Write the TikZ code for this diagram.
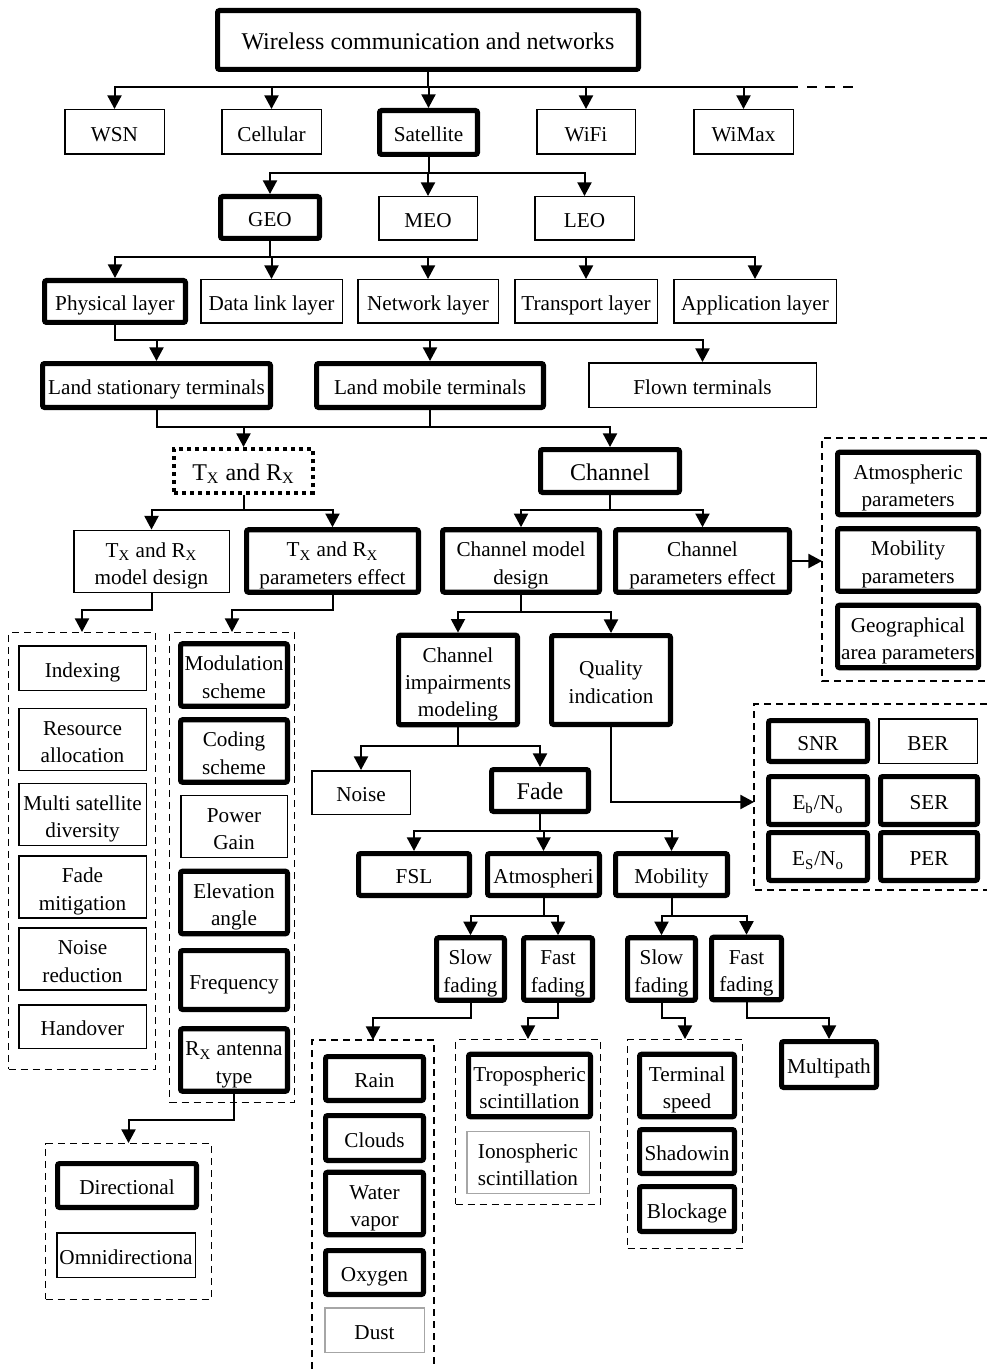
\documentclass[tikz,border=0pt]{standalone}
\usepackage{fontspec}
\setmainfont{Liberation Serif}
\usetikzlibrary{arrows.meta}
% text lowered slightly inside its box
\newcommand\lowtext[1]{\rule[-4.08pt]{0pt}{17.6pt}#1\strut}
% name, x1, y1, x2, y2, style, line width (pt), text
\newcommand\bx[8]{\node[#6,minimum width={(#4-#2)*0.5pt-#7pt},minimum height={(#5-#3)*0.5pt-#7pt}] (#1) at ({(#2+#4)/2},{(#3+#5)/2}) {\lowtext{#8}};}
\newcommand\BK[6]{\bx{#1}{#2}{#3}{#4}{#5}{thickbox}{2.6}{#6}}
\newcommand\BN[6]{\bx{#1}{#2}{#3}{#4}{#5}{thinbox}{0.75}{#6}}
\newcommand\BG[6]{\bx{#1}{#2}{#3}{#4}{#5}{greybox}{0.75}{#6}}
\newcommand\BD[5]{\node[groupbox,minimum width={(#4-#2)*0.5pt-0.7pt},minimum height={(#5-#3)*0.5pt-0.7pt}] (#1) at ({(#2+#4)/2},{(#3+#5)/2}) {};}
\newcommand\Conn[3]{\draw[arr] (#1.south) |- (#2.north |- #3) -- (#2.north);}
\begin{document}
\begin{tikzpicture}[x=0.5pt,y=-0.5pt,
  every node/.style={font=\fontsize{10.6}{13.6}\selectfont, inner sep=0pt, align=center},
  thickbox/.style={draw,line width=2.6pt,rounded corners=1pt},
  thinbox/.style={draw,line width=0.75pt},
  greybox/.style={draw=gray!70,line width=0.75pt},
  dotbox/.style={draw,line width=2.2pt,dash pattern=on 2pt off 2pt},
  groupbox/.style={draw,line width=0.7pt,dash pattern=on 3.5pt off 2.5pt},
  link/.style={line width=1pt},
  arr/.style={link,-{Triangle[width=7pt,length=6.8pt]}},
  busdash/.style={link,dash pattern=on 5pt off 4pt},
  titlefont/.style={font=\fontsize{12}{14}\selectfont}]
\useasboundingbox (0,0) rectangle (987,1369);

% bus levels
\coordinate (L1) at (0,87);
\coordinate (L2) at (0,173);
\coordinate (L3) at (0,257);
\coordinate (L4) at (0,340);
\coordinate (L5) at (0,427);
\coordinate (L6) at (0,510);
\coordinate (L7) at (0,610);
\coordinate (L8) at (0,612);
\coordinate (L9) at (0,746);
\coordinate (L10) at (0,831);
\coordinate (L11) at (0,916);
\coordinate (L12) at (0,1018);
\coordinate (L13) at (0,1120);

% dashed groups
\BD{g1}{8}{632}{156}{1070}
\BD{g2}{169}{632}{295}{1103}
\BD{g3}{45}{1143}{212}{1300}
\BD{g5}{455}{1039}{601}{1205}
\BD{g6}{627}{1039}{743}{1249}
\coordinate (rgTL) at (822,438); \coordinate (rgTR) at (987,438);
\coordinate (rgBL) at (822,681); \coordinate (rgBR) at (987,681);
\draw[groupbox] (rgTR) -- (rgTL) -- (rgBL) -- (rgBR);
\coordinate (qgTL) at (754,704); \coordinate (qgTR) at (987,704);
\coordinate (qgBL) at (754,890); \coordinate (qgBR) at (987,890);
\draw[groupbox] (qgTR) -- (qgTL) -- (qgBL) -- (qgBR);
\coordinate (agBL) at (312,1369); \coordinate (agTL) at (312,1040);
\coordinate (agTR) at (434,1040); \coordinate (agBR) at (434,1369);
\draw[groupbox] (agBL) -- (agTL) -- (agTR) -- (agBR);
\coordinate (agtop) at (373,1040);
\coordinate (rgin) at (822,561);
\coordinate (qin) at (754,802);

% nodes
\node[thickbox,titlefont,minimum width={(641-215)*0.5pt-2.6pt},minimum height={(72-8)*0.5pt-2.6pt}] (wl) at (428,40) {\lowtext{Wireless communication and networks}};
\BN{wsn}{64}{109}{165}{155}{WSN}
\BN{cell}{221}{109}{322}{155}{Cellular}
\BK{sat}{377}{108}{480}{157}{Satellite}
\BN{wifi}{536}{109}{636}{155}{WiFi}
\BN{wimax}{693}{109}{794}{155}{WiMax}

\BK{geo}{218}{194}{322}{241}{GEO}
\BN{meo}{378}{196}{478}{241}{MEO}
\BN{leo}{534}{196}{635}{241}{LEO}

\BK{phy}{42}{278}{188}{325}{Physical layer}
\BN{dll}{200}{279}{343}{324}{Data link layer}
\BN{net}{357}{279}{499}{324}{Network layer}
\BN{trans}{514}{279}{658}{324}{Transport layer}
\BN{app}{673}{279}{837}{324}{Application layer}

\BK{lst}{40}{361}{273}{410}{Land stationary terminals}
\BK{lmt}{314}{361}{546}{410}{Land mobile terminals}
\BN{flown}{588}{362}{817}{408}{Flown terminals}

\bx{trx}{172}{447}{315}{495}{dotbox}{2.2}{\fontsize{12}{14}\selectfont T\textsubscript{X} and R\textsubscript{X}}
\node[thickbox,titlefont,minimum width={(682-538)*0.5pt-2.6pt},minimum height={(495-447)*0.5pt-2.6pt}] (chan) at (610,471) {\lowtext{Channel}};

\BN{trxmd}{73}{531}{230}{592}{T\textsubscript{X} and R\textsubscript{X}\\model design}
\BK{trxpe}{244}{529}{421}{593}{T\textsubscript{X} and R\textsubscript{X}\\parameters effect}
\BK{cmd}{440}{529}{602}{593}{Channel model\\design}
\BK{cpe}{613}{529}{792}{593}{Channel\\parameters effect}

\BK{atm}{835}{452}{981}{515}{Atmospheric\\parameters}
\BK{mob}{835}{528}{981}{592}{Mobility\\parameters}
\BK{geog}{835}{605}{981}{668}{Geographical\\area parameters}

\BN{idx}{18}{645}{147}{691}{Indexing}
\BN{res}{18}{709}{147}{770}{Resource\\allocation}
\BN{msd}{18}{784}{147}{845}{Multi satellite\\diversity}
\BN{fm}{18}{857}{147}{917}{Fade\\mitigation}
\BN{nr}{18}{929}{147}{989}{Noise\\reduction}
\BN{ho}{18}{1004}{147}{1049}{Handover}

\BK{modu}{178}{643}{290}{707}{Modulation\\scheme}
\BK{cod}{178}{719}{290}{783}{Coding\\scheme}
\BN{pg}{180}{796}{288}{857}{Power\\Gain}
\BK{elev}{178}{871}{290}{934}{Elevation\\angle}
\BK{freq}{178}{948}{290}{1012}{Frequency}
\BK{rxa}{178}{1028}{290}{1092}{R\textsubscript{X} antenna\\type}

\BK{dir}{55}{1161}{199}{1210}{Directional}
\BN{omni}{56}{1232}{196}{1278}{Omnidirectiona}

\BK{cim}{396}{633}{520}{727}{Channel\\impairments\\modeling}
\BK{qi}{549}{633}{673}{727}{Quality\\indication}

\BN{noise}{311}{770}{411}{815}{Noise}
\node[thickbox,titlefont,minimum width={(591-489)*0.5pt-2.6pt},minimum height={(814-767)*0.5pt-2.6pt}] (fade) at (540,790.5) {\lowtext{Fade}};

\BK{fsl}{356}{851}{472}{898}{FSL}
\BK{atmo}{485}{851}{602}{898}{Atmospheri}
\BK{mobi}{613}{851}{730}{898}{Mobility}

\BK{sfa}{434}{938}{507}{1000}{Slow\\fading}
\BK{ffa}{521}{938}{595}{1000}{Fast\\fading}
\BK{sfm}{625}{938}{698}{1000}{Slow\\fading}
\BK{ffm}{709}{937}{784}{1000}{Fast\\fading}

\BK{snr}{766}{718}{870}{764}{SNR}
\BN{ber}{878}{718}{978}{764}{BER}
\BK{ebno}{766}{774}{870}{827}{E\textsubscript{b}/N\textsubscript{o}}
\BK{ser}{878}{774}{980}{827}{SER}
\BK{esno}{766}{830}{870}{883}{E\textsubscript{S}/N\textsubscript{o}}
\BK{per}{878}{830}{980}{883}{PER}

\BK{rain}{323}{1054}{426}{1103}{Rain}
\BK{clouds}{323}{1113}{426}{1163}{Clouds}
\BK{wv}{323}{1172}{426}{1235}{Water\\vapor}
\BK{oxy}{323}{1248}{426}{1297}{Oxygen}
\BG{dust}{324}{1307}{425}{1353}{Dust}

\BK{tropo}{466}{1053}{593}{1118}{Tropospheric\\scintillation}
\BG{iono}{466}{1132}{590}{1193}{Ionospheric\\scintillation}

\BK{ts}{637}{1053}{737}{1118}{Terminal\\speed}
\BK{shad}{637}{1127}{737}{1176}{Shadowin}
\BK{block}{637}{1184}{737}{1234}{Blockage}

\BK{multi}{779}{1039}{879}{1090}{Multipath}

% connectors
\Conn{wl}{wsn}{L1}
\Conn{wl}{cell}{L1}
\Conn{wl}{sat}{L1}
\Conn{wl}{wifi}{L1}
\Conn{wl}{wimax}{L1}
\coordinate (busend) at (798,87);
\coordinate (dashstart) at (807,87);
\coordinate (dashend) at (858,87);
\draw[link] (wimax.north |- L1) -- (busend);
\draw[busdash] (dashstart) -- (dashend);

\Conn{sat}{geo}{L2}
\Conn{sat}{meo}{L2}
\Conn{sat}{leo}{L2}

\Conn{geo}{phy}{L3}
\Conn{geo}{dll}{L3}
\Conn{geo}{net}{L3}
\Conn{geo}{trans}{L3}
\Conn{geo}{app}{L3}

\Conn{phy}{lst}{L4}
\Conn{phy}{lmt}{L4}
\Conn{phy}{flown}{L4}

\Conn{lst}{trx}{L5}
\Conn{lst}{chan}{L5}
\draw[link] (lmt.south) -- (lmt.south |- L5);

\Conn{trx}{trxmd}{L6}
\Conn{trx}{trxpe}{L6}
\Conn{chan}{cmd}{L6}
\Conn{chan}{cpe}{L6}
\draw[arr] (cpe.east) -- (rgin);

\Conn{trxmd}{g1}{L7}
\Conn{trxpe}{g2}{L7}
\Conn{rxa}{g3}{L13}

\Conn{cmd}{cim}{L8}
\Conn{cmd}{qi}{L8}
\Conn{cim}{noise}{L9}
\Conn{cim}{fade}{L9}
\draw[arr] (qi.south) |- (qin);

\Conn{fade}{fsl}{L10}
\Conn{fade}{atmo}{L10}
\Conn{fade}{mobi}{L10}

\Conn{atmo}{sfa}{L11}
\Conn{atmo}{ffa}{L11}
\Conn{mobi}{sfm}{L11}
\Conn{mobi}{ffm}{L11}

\draw[arr] (sfa.south) |- (agtop |- L12) -- (agtop);
\Conn{ffa}{g5}{L12}
\Conn{sfm}{g6}{L12}
\Conn{ffm}{multi}{L12}
\end{tikzpicture}
\end{document}
